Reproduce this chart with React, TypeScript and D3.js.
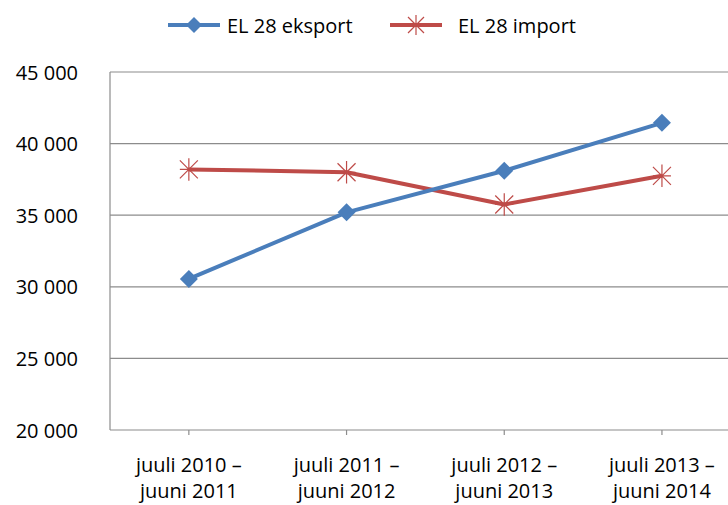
import React from "react";
import * as d3 from "d3";

const categories = [
  ["juuli 2010 –", "juuni 2011"],
  ["juuli 2011 –", "juuni 2012"],
  ["juuli 2012 –", "juuni 2013"],
  ["juuli 2013 –", "juuni 2014"],
];
const eksport = [30550, 35200, 38100, 41450];
const importV = [38200, 38000, 35750, 37750];
const yTicks = [20000, 25000, 30000, 35000, 40000, 45000];
const seriesNames = ["EL 28 eksport", "EL 28 import"];

const W = 728, H = 505;
const left = 110, top = 72, bottom = 430;
const band = 157.7;
const FONT = "'Open Sans', Lato, sans-serif";
const BLUE = "#4a7ebb", RED = "#be4b48", GRID = "#8c8c8c";

function Asterisk({ x, y, r, color }: { x: number; y: number; r: number; color: string }) {
  const d = `M${x - r},${y - r}L${x + r},${y + r}M${x - r},${y + r}L${x + r},${y - r}M${x},${y - r * 1.25}L${x},${y + r * 1.25}M${x - r},${y}L${x + r},${y}`;
  return <path d={d} stroke={color} strokeWidth={1.2} fill="none" />;
}

function Diamond({ x, y, r, color }: { x: number; y: number; r: number; color: string }) {
  return <path d={`M${x},${y - r}L${x + r},${y}L${x},${y + r}L${x - r},${y}Z`} fill={color} />;
}

export default function App() {
  const x = d3.scaleBand<number>().domain(d3.range(categories.length)).range([left, left + band * categories.length]);
  const cx = (i: number) => (x(i) as number) + x.bandwidth() / 2;
  const y = d3.scaleLinear().domain([20000, 45000]).range([bottom, top]);
  const fmt = (v: number) => d3.format(",")(v).replace(",", " ");
  const line = d3.line<number>().x((_, i) => cx(i)).y((v) => y(v));

  return (
    <svg width={W} height={H} style={{ position: "absolute", left: 0, top: 0, background: "#fff" }}>
      {yTicks.map((t) => (
        <g key={t}>
          {t > 20000 && <line x1={left} x2={W} y1={y(t)} y2={y(t)} stroke={GRID} strokeWidth={1.2} />}
          <text x={78} y={y(t)} textAnchor="end" dominantBaseline="central" fontFamily={FONT} fontSize={20} fill="#000">
            {fmt(t)}
          </text>
        </g>
      ))}
      <line x1={left} x2={left} y1={top} y2={bottom} stroke={GRID} strokeWidth={1.2} />
      <line x1={left} x2={W} y1={bottom} y2={bottom} stroke={GRID} strokeWidth={1.2} />
      {categories.map((c, i) => (
        <g key={i}>
          <line x1={cx(i)} x2={cx(i)} y1={bottom} y2={bottom + 5} stroke={GRID} strokeWidth={1.2} />
          {c.map((s, j) => (
            <text key={j} x={cx(i)} y={464 + j * 26} textAnchor="middle" dominantBaseline="central" fontFamily={FONT} fontSize={20} fill="#000">
              {s}
            </text>
          ))}
        </g>
      ))}
      <path d={line(importV) || ""} stroke={RED} strokeWidth={4} fill="none" strokeLinejoin="round" />
      {importV.map((v, i) => (
        <Asterisk key={i} x={cx(i)} y={y(v)} r={9} color={RED} />
      ))}
      <path d={line(eksport) || ""} stroke={BLUE} strokeWidth={4} fill="none" strokeLinejoin="round" />
      {eksport.map((v, i) => (
        <Diamond key={i} x={cx(i)} y={y(v)} r={9} color={BLUE} />
      ))}
      {/* legend */}
      <line x1={168} x2={220} y1={25} y2={25} stroke={BLUE} strokeWidth={4} />
      <Diamond x={194} y={25} r={8} color={BLUE} />
      <text x={227} y={25} dominantBaseline="central" fontFamily={FONT} fontSize={20} fill="#000">{seriesNames[0]}</text>
      <line x1={390} x2={442} y1={25} y2={25} stroke={RED} strokeWidth={4} />
      <Asterisk x={416} y={25} r={8} color={RED} />
      <text x={458} y={25} dominantBaseline="central" fontFamily={FONT} fontSize={20} fill="#000">{seriesNames[1]}</text>
    </svg>
  );
}
